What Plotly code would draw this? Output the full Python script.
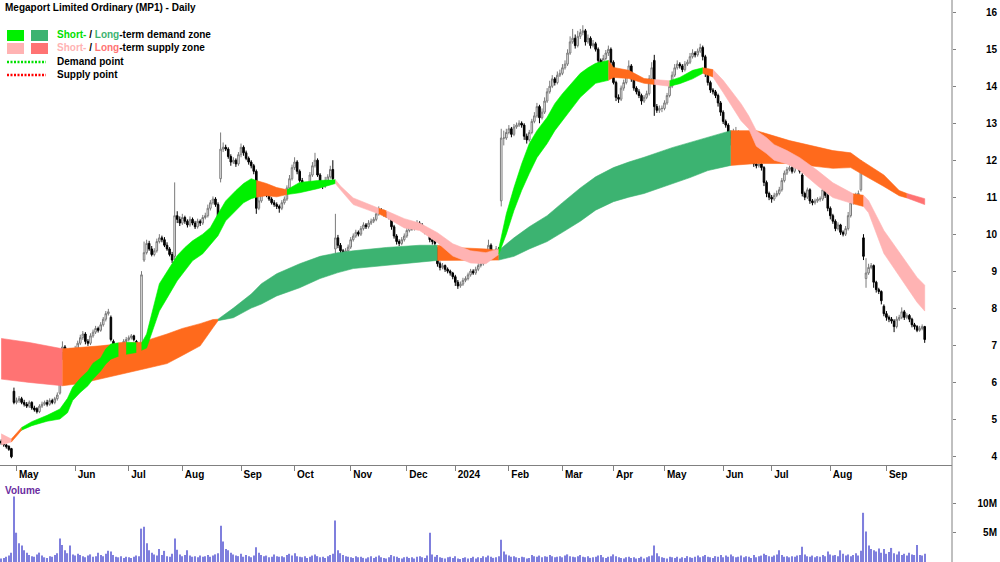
import plotly.graph_objects as go
import pandas as pd

# ---------------- data ----------------
open_ = [
 4.40, 4.36, 4.30, 4.26, 4.20, 5.75, 5.45, 5.50, 5.55, 5.45,
 5.40, 5.35, 5.45, 5.30, 5.28, 5.20, 5.35, 5.40, 5.45, 5.40,
 5.50, 5.45, 5.55, 5.70, 6.80, 6.95, 6.60, 6.75, 6.85, 6.70,
 6.90, 7.05, 7.20, 7.30, 7.10, 7.05, 7.25, 7.35, 7.45, 7.40,
 7.55, 7.70, 7.85, 7.75, 7.10, 6.85, 6.95, 6.90, 7.00, 7.10,
 7.15, 7.20, 7.25, 7.10, 6.85, 6.80, 9.30, 9.50, 9.75, 9.60,
 9.45, 9.55, 9.80, 9.90, 9.85, 9.70, 9.60, 9.45, 9.40, 10.50,
 10.40, 10.30, 10.45, 10.35, 10.25, 10.40, 10.30, 10.20, 10.35, 10.30,
 10.45, 10.50, 10.70, 10.85, 10.95, 10.80, 11.50, 12.30, 12.35, 12.30,
 12.10, 11.95, 12.00, 11.90, 12.15, 12.35, 12.20, 12.05, 11.95, 11.85,
 11.70, 10.70, 10.90, 11.10, 11.20, 11.05, 10.95, 10.85, 10.80, 10.75,
 10.70, 10.85, 10.95, 11.25, 11.50, 11.80, 11.95, 11.70, 11.45, 11.35,
 11.30, 11.25, 11.60, 11.85, 12.00, 11.60, 11.35, 11.30, 11.45, 11.55,
 11.75, 9.60, 9.90, 9.70, 9.55, 9.45, 9.55, 9.65, 9.85, 9.95,
 10.05, 10.00, 10.15, 10.25, 10.20, 10.30, 10.35, 10.40, 10.55, 10.65,
 10.60, 10.55, 10.50, 10.45, 10.20, 9.95, 9.80, 9.75, 9.85, 9.95,
 10.10, 10.20, 10.15, 10.25, 10.30, 10.25, 10.15, 10.05, 10.10, 9.85,
 9.80, 9.60, 9.20, 9.10, 9.15, 9.05, 9.00, 8.95, 8.85, 8.70,
 8.60, 8.65, 8.75, 8.80, 8.90, 9.00, 8.95, 9.05, 9.15, 9.20,
 9.30, 9.45, 9.70, 9.50, 9.40, 9.60, 10.90, 12.60, 12.60, 12.75,
 12.85, 12.70, 12.90, 12.95, 13.00, 12.95, 12.65, 12.55, 12.75, 13.05,
 13.20, 13.45, 13.15, 13.30, 13.60, 13.85, 14.00, 14.20, 14.10, 14.30,
 14.35, 14.50, 14.60, 14.90, 15.20, 15.30, 15.10, 15.35, 15.45, 15.50,
 15.20, 15.30, 15.10, 15.15, 15.00, 14.70, 14.45, 14.75, 14.90, 15.00,
 14.65, 14.10, 13.70, 13.65, 13.95, 14.10, 14.30, 14.55, 14.20, 13.95,
 13.85, 13.75, 13.60, 13.70, 13.80, 14.20, 14.70, 13.45, 13.35, 13.40,
 13.40, 13.55, 13.75, 14.00, 14.30, 14.50, 14.60, 14.55, 14.45, 14.60,
 14.65, 14.80, 14.90, 14.85, 14.95, 15.05, 14.80, 14.35, 14.10, 13.90,
 13.85, 13.75, 13.55, 13.30, 13.05, 12.95, 12.75, 12.60, 12.70, 12.75,
 12.55, 12.40, 12.30, 12.15, 12.05, 12.00, 11.90, 11.85, 11.90, 11.80,
 11.40, 11.10, 11.00, 10.95, 11.05, 11.10, 11.20, 11.45, 11.65, 11.75,
 11.80, 11.70, 11.85, 11.95, 11.60, 11.10, 11.00, 11.20, 10.90, 10.85,
 10.90, 10.95, 10.95, 11.20, 11.05, 10.70, 10.50, 10.35, 10.15, 10.25,
 10.05, 10.00, 10.15, 10.50, 10.85, 10.95, 11.05, 11.20, 9.90, 8.80,
 8.95, 9.10, 9.15, 8.70, 8.50, 8.45, 8.05, 7.85, 7.75, 7.70,
 7.65, 7.50, 7.70, 7.75, 7.90, 7.75, 7.80, 7.70, 7.55, 7.50,
 7.40, 7.45, 7.50]

high = [
 4.45, 4.40, 4.33, 4.29, 4.22, 5.85, 5.58, 5.62, 5.60, 5.52,
 5.46, 5.50, 5.48, 5.36, 5.32, 5.40, 5.47, 5.50, 5.52, 5.56,
 5.55, 5.60, 5.72, 6.86, 7.10, 7.00, 6.82, 6.92, 6.90, 6.98,
 7.12, 7.28, 7.38, 7.35, 7.16, 7.32, 7.42, 7.52, 7.50, 7.62,
 7.76, 7.92, 7.98, 7.80, 7.15, 7.02, 7.00, 7.06, 7.16, 7.22,
 7.26, 7.30, 7.28, 7.14, 6.90, 9.00, 9.80, 9.85, 9.82, 9.68,
 9.62, 9.88, 10.00, 9.96, 9.92, 9.78, 9.65, 9.52, 11.40, 10.62,
 10.48, 10.55, 10.50, 10.40, 10.48, 10.45, 10.36, 10.42, 10.40, 10.52,
 10.58, 10.80, 10.92, 11.02, 11.00, 10.86, 12.75, 12.48, 12.42, 12.35,
 12.16, 12.08, 12.05, 12.22, 12.45, 12.40, 12.26, 12.10, 12.00, 11.90,
 11.75, 11.05, 11.20, 11.32, 11.25, 11.10, 11.00, 10.92, 10.86, 10.80,
 10.92, 11.02, 11.32, 11.60, 11.88, 12.08, 12.00, 11.75, 11.52, 11.40,
 11.35, 11.68, 11.95, 12.20, 12.05, 11.65, 11.42, 11.55, 11.62, 11.85,
 12.00, 10.55, 9.98, 9.76, 9.60, 9.62, 9.72, 9.92, 10.02, 10.12,
 10.10, 10.22, 10.32, 10.30, 10.38, 10.42, 10.46, 10.62, 10.75, 10.70,
 10.66, 10.60, 10.56, 10.48, 10.25, 10.00, 9.86, 9.92, 10.02, 10.18,
 10.28, 10.25, 10.32, 10.38, 10.35, 10.30, 10.20, 10.16, 10.14, 9.90,
 9.84, 9.65, 9.26, 9.22, 9.18, 9.10, 9.04, 8.98, 8.90, 8.76,
 8.72, 8.82, 8.86, 8.96, 9.06, 9.05, 9.12, 9.22, 9.26, 9.38,
 9.52, 9.85, 9.75, 9.55, 9.68, 9.65, 12.85, 12.80, 12.85, 12.95,
 12.90, 12.98, 13.02, 13.08, 13.05, 13.00, 12.72, 12.82, 13.12, 13.30,
 13.55, 13.50, 13.40, 13.70, 13.95, 14.15, 14.30, 14.25, 14.40, 14.45,
 14.60, 14.70, 15.00, 15.35, 15.55, 15.40, 15.50, 15.55, 15.65, 15.55,
 15.40, 15.35, 15.25, 15.20, 15.05, 14.75, 14.85, 14.98, 15.10, 15.05,
 14.70, 14.15, 13.78, 14.02, 14.18, 14.40, 14.70, 14.60, 14.25, 14.00,
 13.92, 13.80, 13.76, 13.88, 14.30, 14.65, 14.85, 13.52, 13.48, 13.48,
 13.62, 13.82, 14.08, 14.40, 14.60, 14.70, 14.65, 14.60, 14.68, 14.72,
 14.90, 15.00, 14.95, 15.02, 15.15, 15.10, 14.85, 14.40, 14.15, 13.95,
 13.90, 13.80, 13.60, 13.35, 13.10, 13.00, 12.80, 12.85, 12.90, 12.80,
 12.60, 12.45, 12.35, 12.22, 12.10, 12.05, 11.96, 11.98, 11.95, 11.84,
 11.45, 11.15, 11.06, 11.12, 11.18, 11.28, 11.52, 11.72, 11.82, 11.86,
 11.85, 11.92, 12.02, 12.00, 11.65, 11.15, 11.26, 11.24, 10.95, 10.96,
 11.00, 11.02, 11.28, 11.25, 11.10, 10.75, 10.55, 10.40, 10.32, 10.28,
 10.10, 10.22, 10.60, 10.92, 11.02, 11.12, 11.18, 12.00, 10.00, 9.35,
 9.20, 9.22, 9.18, 8.74, 8.55, 8.48, 8.10, 7.92, 7.80, 7.76,
 7.70, 7.78, 7.82, 8.02, 7.95, 7.86, 7.84, 7.74, 7.60, 7.54,
 7.52, 7.56, 7.52]

low = [
 4.30, 4.25, 4.20, 4.14, 3.94, 5.40, 5.40, 5.44, 5.40, 5.34,
 5.30, 5.30, 5.25, 5.20, 5.15, 5.16, 5.30, 5.36, 5.34, 5.36,
 5.40, 5.40, 5.50, 5.66, 6.60, 6.50, 6.55, 6.68, 6.62, 6.65,
 6.84, 7.00, 7.14, 7.02, 6.98, 7.00, 7.20, 7.30, 7.34, 7.36,
 7.50, 7.64, 7.80, 7.10, 6.78, 6.80, 6.84, 6.86, 6.95, 7.05,
 7.10, 7.15, 7.10, 6.80, 6.74, 6.75, 9.25, 9.45, 9.55, 9.40,
 9.40, 9.50, 9.75, 9.78, 9.65, 9.55, 9.40, 9.22, 9.28, 10.30,
 10.22, 10.25, 10.28, 10.18, 10.20, 10.24, 10.14, 10.15, 10.22, 10.25,
 10.40, 10.45, 10.64, 10.80, 10.74, 10.35, 11.40, 12.22, 12.25, 12.04,
 11.85, 11.90, 11.82, 11.85, 12.08, 12.12, 12.00, 11.88, 11.78, 11.62,
 10.55, 10.65, 10.85, 11.05, 11.00, 10.90, 10.80, 10.74, 10.68, 10.58,
 10.65, 10.80, 10.90, 11.20, 11.45, 11.74, 11.62, 11.40, 11.30, 11.24,
 11.18, 11.20, 11.55, 11.80, 11.55, 11.28, 11.22, 11.25, 11.40, 11.50,
 11.42, 9.00, 9.62, 9.48, 9.38, 9.40, 9.50, 9.60, 9.80, 9.90,
 9.94, 9.95, 10.10, 10.14, 10.15, 10.25, 10.30, 10.35, 10.50, 10.55,
 10.48, 10.44, 10.40, 10.12, 9.88, 9.72, 9.68, 9.70, 9.80, 9.90,
 10.05, 10.10, 10.10, 10.20, 10.20, 10.10, 10.00, 10.00, 9.78, 9.72,
 9.68, 9.12, 9.02, 9.05, 8.98, 8.94, 8.88, 8.78, 8.60, 8.52,
 8.55, 8.60, 8.70, 8.75, 8.85, 8.90, 8.90, 9.00, 9.10, 9.15,
 9.25, 9.40, 9.42, 9.32, 9.35, 9.48, 10.75, 12.40, 12.55, 12.70,
 12.62, 12.65, 12.85, 12.90, 12.88, 12.55, 12.45, 12.50, 12.70, 13.00,
 13.15, 13.00, 13.10, 13.25, 13.55, 13.80, 13.95, 14.02, 14.05, 14.25,
 14.30, 14.45, 14.55, 14.85, 15.15, 15.02, 15.05, 15.28, 15.38, 15.10,
 15.15, 15.02, 15.05, 14.94, 14.62, 14.35, 14.40, 14.70, 14.82, 14.58,
 14.05, 13.60, 13.55, 13.60, 13.88, 14.05, 14.25, 14.12, 13.88, 13.78,
 13.68, 13.50, 13.55, 13.65, 13.75, 14.15, 13.20, 13.28, 13.28, 13.30,
 13.35, 13.50, 13.70, 13.95, 14.25, 14.45, 14.48, 14.38, 14.40, 14.55,
 14.60, 14.75, 14.78, 14.80, 14.90, 14.70, 14.25, 14.02, 13.82, 13.78,
 13.68, 13.45, 13.20, 12.98, 12.88, 12.65, 12.40, 12.35, 12.62, 12.48,
 12.32, 12.22, 12.05, 11.98, 11.92, 11.82, 11.78, 11.80, 11.72, 11.30,
 11.00, 10.92, 10.85, 10.90, 11.00, 11.05, 11.15, 11.40, 11.60, 11.70,
 11.64, 11.65, 11.80, 11.64, 11.02, 10.92, 10.95, 10.82, 10.78, 10.80,
 10.85, 10.88, 10.90, 10.98, 10.62, 10.40, 10.28, 10.08, 10.10, 9.98,
 9.94, 9.95, 10.10, 10.45, 10.80, 10.90, 11.00, 11.15, 9.30, 8.55,
 8.90, 9.05, 8.55, 8.42, 8.38, 8.10, 7.78, 7.66, 7.62, 7.58,
 7.35, 7.45, 7.65, 7.70, 7.68, 7.70, 7.62, 7.48, 7.42, 7.35,
 7.36, 7.40, 7.06]

close = [
 4.35, 4.30, 4.25, 4.18, 3.98, 5.45, 5.50, 5.55, 5.45, 5.40,
 5.35, 5.45, 5.30, 5.25, 5.20, 5.35, 5.40, 5.45, 5.40, 5.50,
 5.45, 5.55, 5.65, 6.80, 6.95, 6.60, 6.75, 6.85, 6.70, 6.90,
 7.05, 7.20, 7.30, 7.10, 7.05, 7.25, 7.35, 7.45, 7.40, 7.55,
 7.70, 7.85, 7.90, 7.15, 6.85, 6.95, 6.90, 7.00, 7.10, 7.15,
 7.20, 7.25, 7.15, 6.85, 6.78, 8.90, 9.50, 9.75, 9.60, 9.45,
 9.55, 9.80, 9.90, 9.85, 9.70, 9.60, 9.45, 9.30, 10.50, 10.40,
 10.30, 10.45, 10.35, 10.25, 10.40, 10.30, 10.20, 10.35, 10.30, 10.45,
 10.50, 10.70, 10.85, 10.95, 10.80, 10.40, 12.30, 12.35, 12.30, 12.10,
 11.95, 12.00, 11.90, 12.15, 12.35, 12.20, 12.05, 11.95, 11.85, 11.70,
 10.70, 10.90, 11.10, 11.20, 11.05, 10.95, 10.85, 10.80, 10.75, 10.70,
 10.85, 10.95, 11.25, 11.50, 11.80, 11.95, 11.70, 11.45, 11.35, 11.30,
 11.25, 11.60, 11.85, 12.00, 11.60, 11.35, 11.30, 11.45, 11.55, 11.75,
 11.50, 9.90, 9.70, 9.55, 9.45, 9.55, 9.65, 9.85, 9.95, 10.05,
 10.00, 10.15, 10.25, 10.20, 10.30, 10.35, 10.40, 10.55, 10.65, 10.60,
 10.55, 10.50, 10.45, 10.20, 9.95, 9.80, 9.75, 9.85, 9.95, 10.10,
 10.20, 10.15, 10.25, 10.30, 10.25, 10.15, 10.05, 10.10, 9.85, 9.80,
 9.75, 9.20, 9.10, 9.15, 9.05, 9.00, 8.95, 8.85, 8.70, 8.60,
 8.65, 8.75, 8.80, 8.90, 9.00, 8.95, 9.05, 9.15, 9.20, 9.30,
 9.45, 9.70, 9.50, 9.40, 9.60, 9.55, 12.60, 12.60, 12.75, 12.85,
 12.70, 12.90, 12.95, 13.00, 12.95, 12.65, 12.55, 12.75, 13.05, 13.20,
 13.45, 13.15, 13.30, 13.60, 13.85, 14.00, 14.20, 14.10, 14.30, 14.35,
 14.50, 14.60, 14.90, 15.20, 15.30, 15.10, 15.35, 15.45, 15.50, 15.20,
 15.30, 15.10, 15.15, 15.00, 14.70, 14.45, 14.75, 14.90, 15.00, 14.65,
 14.10, 13.70, 13.65, 13.95, 14.10, 14.30, 14.55, 14.20, 13.95, 13.85,
 13.75, 13.60, 13.70, 13.80, 14.20, 14.50, 13.45, 13.35, 13.40, 13.40,
 13.55, 13.75, 14.00, 14.30, 14.50, 14.60, 14.55, 14.45, 14.60, 14.65,
 14.80, 14.90, 14.85, 14.95, 15.05, 14.80, 14.35, 14.10, 13.90, 13.85,
 13.75, 13.55, 13.30, 13.05, 12.95, 12.75, 12.60, 12.70, 12.75, 12.55,
 12.40, 12.30, 12.15, 12.05, 12.00, 11.90, 11.85, 11.90, 11.80, 11.40,
 11.10, 11.00, 10.95, 11.05, 11.10, 11.20, 11.45, 11.65, 11.75, 11.80,
 11.70, 11.85, 11.95, 11.70, 11.10, 11.00, 11.20, 10.90, 10.85, 10.90,
 10.95, 10.95, 11.20, 11.05, 10.70, 10.50, 10.35, 10.15, 10.25, 10.05,
 10.00, 10.15, 10.50, 10.85, 10.95, 11.05, 11.10, 11.75, 9.40, 8.95,
 9.10, 9.15, 8.70, 8.50, 8.45, 8.20, 7.85, 7.75, 7.70, 7.65,
 7.50, 7.70, 7.75, 7.90, 7.75, 7.80, 7.70, 7.55, 7.50, 7.40,
 7.45, 7.50, 7.15]

volume_m = [
 0.6, 0.7, 0.9, 1.1, 1.6, 11.2, 5.0, 3.2, 2.8, 2.0,
 1.6, 1.2, 1.0, 0.9, 1.3, 1.6, 1.1, 0.8, 0.7, 1.0,
 0.9, 1.2, 1.5, 4.0, 2.9, 2.0, 1.5, 2.8, 1.3, 1.1,
 1.4, 1.2, 1.0, 0.8, 1.1, 1.3, 0.9, 1.0, 1.6, 1.2,
 1.0, 1.4, 1.9, 1.8, 1.2, 0.9, 0.8, 1.0, 0.7, 0.9,
 0.8, 0.7, 0.9, 1.1, 1.0, 5.7, 6.0, 3.2, 2.0, 1.6,
 1.3, 1.1, 2.2, 1.2, 1.9, 1.0, 0.9, 1.4, 4.0, 2.1,
 1.3, 1.0, 1.2, 2.0, 1.1, 0.9, 1.0, 0.8, 1.1, 0.9,
 1.0, 1.2, 0.9, 1.1, 1.3, 1.5, 6.2, 3.5, 2.2, 2.0,
 1.6, 1.3, 1.1, 1.0, 1.4, 0.9, 1.2, 1.0, 0.8, 1.1,
 2.5, 1.6, 1.2, 1.0, 1.1, 0.8, 0.9, 1.3, 1.0, 0.9,
 1.0, 0.8, 1.2, 1.4, 1.1, 1.5, 1.0, 0.9, 0.8, 1.0,
 0.7, 0.9, 1.1, 1.3, 1.0, 0.8, 0.9, 0.7, 1.0, 1.2,
 1.4, 7.1, 2.0, 1.5, 1.2, 1.0, 0.9, 0.8, 0.7, 1.0,
 0.8, 0.9, 0.7, 0.6, 0.8, 1.0, 0.7, 0.9, 1.1, 0.8,
 0.7, 0.6, 0.8, 1.2, 1.0, 0.9, 0.7, 0.6, 0.8, 0.9,
 0.7, 0.8, 0.6, 0.9, 1.0, 0.8, 0.7, 1.1, 5.0, 1.3,
 0.9, 1.2, 0.8, 0.7, 0.6, 0.8, 0.9, 0.7, 1.0, 0.6,
 0.5, 0.7, 0.8, 0.6, 0.7, 0.9, 0.6, 0.8, 0.7, 1.0,
 0.8, 1.1, 0.9, 0.7, 0.8, 1.0, 3.8, 1.8, 1.3, 1.1,
 0.9, 1.0, 0.8, 0.7, 0.9, 0.8, 0.6, 0.7, 1.2, 1.0,
 0.9, 1.1, 0.8, 1.0, 0.9, 1.2, 1.0, 0.8, 0.9, 1.0,
 0.8, 1.1, 1.3, 1.0, 0.9, 0.8, 1.0, 1.2, 0.9, 0.8,
 1.0, 0.7, 0.8, 0.9, 1.1, 1.2, 0.8, 0.7, 0.9, 1.0,
 1.3, 1.0, 0.8, 0.7, 0.6, 0.8, 0.9, 0.7, 0.8, 0.6,
 0.7, 0.9, 0.6, 0.8, 1.0, 1.1, 2.8, 1.5, 1.0, 0.8,
 0.7, 0.6, 0.9, 0.8, 0.7, 0.9, 0.6, 0.8, 0.7, 1.0,
 0.8, 0.7, 0.9, 1.1, 0.8, 1.0, 1.2, 0.9, 0.8, 0.7,
 1.0, 0.9, 1.2, 0.8, 1.1, 0.9, 1.3, 1.0, 0.8, 0.9,
 1.1, 0.8, 1.0, 0.9, 0.7, 1.2, 0.8, 1.0, 1.1, 1.4,
 1.2, 1.0, 0.9, 1.1, 1.3, 2.0, 1.2, 0.9, 1.0, 0.8,
 1.0, 0.9, 1.1, 1.2, 2.6, 1.3, 1.0, 0.9, 1.1, 0.8,
 1.0, 0.9, 1.2, 1.0, 1.8, 1.3, 1.1, 1.2, 1.0, 2.0,
 1.4, 1.1, 1.3, 1.0, 1.2, 1.5, 1.1, 1.9, 8.4, 5.2,
 2.8, 2.2, 2.0, 1.8, 2.3, 1.6, 2.2, 1.4, 1.7, 2.4,
 1.5, 1.3, 1.8, 1.2, 1.4, 1.1, 1.6, 1.3, 1.2, 2.9,
 1.2, 1.1, 1.4]

# short-term zone edges (trading-day index, upper, lower)
st_idx = [0, 4, 8, 12, 18, 23, 26, 28, 31, 34, 36, 39, 41, 43, 46, 49, 53, 55, 57, 62,
          65, 69, 72, 75, 79, 82, 85, 88, 92, 95, 98, 100, 104, 108, 112, 117, 124, 131, 133, 138,
          145, 148, 151, 158, 164, 171, 177, 184, 190, 195, 198, 201, 204, 207, 210, 214, 217, 220, 224, 227,
          230, 233, 238, 240, 246, 252, 256, 262, 266, 271, 275, 279, 283, 290, 293, 296, 300, 303, 308, 313,
          320, 326, 334, 338, 340, 346, 352, 359, 362]
st_top = [4.60, 4.46, 4.77, 4.93, 5.10, 5.27, 5.56, 5.86, 6.10, 6.30, 6.51, 6.65, 6.90, 7.03, 7.06, 7.08, 7.06, 7.05, 7.30, 8.66,
          9.00, 9.42, 9.64, 9.82, 10.00, 10.18, 10.55, 10.90, 11.18, 11.37, 11.50, 11.45, 11.37, 11.26, 11.20, 11.40, 11.45, 11.47, 11.30, 10.98,
          10.77, 10.70, 10.63, 10.42, 10.30, 10.04, 9.74, 9.55, 9.50, 9.60, 10.55, 11.26, 11.90, 12.45, 12.80, 13.16, 13.53, 13.80, 14.10, 14.35,
          14.50, 14.62, 14.70, 14.51, 14.43, 14.21, 14.18, 14.15, 14.24, 14.43, 14.50, 14.45, 14.16, 13.53, 13.20, 12.80, 12.61, 12.42, 12.26, 12.07,
          11.72, 11.39, 11.09, 11.05, 10.91, 10.10, 9.50, 8.83, 8.62]
st_bot = [4.30, 4.38, 4.70, 4.82, 4.94, 5.00, 5.17, 5.50, 5.72, 5.90, 6.08, 6.30, 6.49, 6.62, 6.70, 6.75, 6.80, 6.86, 6.92, 7.92,
          8.27, 8.74, 9.00, 9.28, 9.47, 9.70, 9.96, 10.36, 10.64, 10.85, 10.96, 11.00, 11.04, 11.01, 11.07, 11.12, 11.23, 11.37, 11.20, 10.80,
          10.63, 10.55, 10.45, 10.17, 10.10, 9.77, 9.41, 9.22, 9.20, 9.45, 10.00, 10.64, 11.18, 11.64, 12.07, 12.45, 12.80, 13.07, 13.43, 13.70,
          13.90, 14.08, 14.16, 14.24, 14.21, 14.08, 14.05, 14.00, 14.07, 14.20, 14.35, 14.25, 13.83, 13.07, 12.85, 12.38, 12.18, 12.00, 11.90, 11.72,
          11.31, 10.99, 10.82, 10.75, 10.58, 9.48, 8.88, 8.16, 7.92]
st_zones = [(0, 4, "supply"), (4, 8, "mixed"), (8, 46, "demand"), (46, 49, "mixed"), (49, 53, "demand"),
            (53, 55, "mixed"), (55, 100, "demand"), (100, 112, "mixed"), (112, 131, "demand"),
            (131, 148, "supply"), (148, 151, "mixed"), (151, 195, "supply"), (195, 238, "demand"),
            (238, 256, "mixed"), (256, 262, "supply"), (262, 275, "demand"), (275, 279, "mixed"),
            (279, 334, "supply"), (334, 338, "mixed"), (338, 362, "supply")]

# long-term zone edges
lt_idx = [0, 11, 24, 31, 39, 47, 55, 65, 71, 78, 83, 85, 91, 98, 102, 108, 117, 125, 132, 138,
          151, 164, 171, 177, 190, 195, 201, 207, 214, 220, 227, 233, 240, 246, 252, 263, 270, 277, 286, 296,
          309, 326, 333, 337, 346, 352, 355, 362]
lt_top = [7.18, 7.07, 6.90, 6.93, 6.98, 7.04, 7.08, 7.30, 7.45, 7.58, 7.69, 7.70, 8.00, 8.38, 8.66, 8.93, 9.20, 9.40, 9.50, 9.55,
          9.64, 9.70, 9.70, 9.64, 9.60, 9.56, 9.90, 10.20, 10.50, 10.85, 11.25, 11.55, 11.80, 11.95, 12.08, 12.34, 12.48, 12.61, 12.80, 12.80,
          12.53, 12.26, 12.20, 12.00, 11.60, 11.18, 11.10, 10.96]
lt_bot = [6.08, 5.99, 5.90, 5.96, 6.09, 6.22, 6.34, 6.50, 6.72, 6.98, 7.47, 7.66, 7.74, 8.00, 8.11, 8.33, 8.55, 8.80, 8.96, 9.07,
          9.15, 9.24, 9.29, 9.29, 9.30, 9.30, 9.40, 9.60, 9.80, 10.05, 10.35, 10.65, 10.88, 11.00, 11.10, 11.37, 11.53, 11.72, 11.86, 11.91,
          11.91, 11.78, 11.80, 11.64, 11.29, 11.04, 10.98, 10.80]
lt_zones = [(0, 24, "supply"), (24, 85, "mixed"), (85, 171, "demand"), (171, 195, "mixed"),
            (195, 286, "demand"), (286, 355, "mixed"), (355, 362, "supply")]

price_ticks = [4, 5, 6, 7, 8, 9, 10, 11, 12, 13, 14, 15, 16]

# ---------------- helpers / styles ----------------
W, H = 1000, 562
FONT = "Liberation Sans, Arial, sans-serif"
ST_COL = {"demand": "#00f000", "supply": "#ffb3b3", "mixed": "#ff6a1c"}
LT_COL = {"demand": "#3cb371", "supply": "#ff7373", "mixed": "#ff6a1c"}


def px(x):
    return x / W


def py(y):
    return 1 - y / H


holidays = pd.to_datetime(["2023-04-25", "2023-06-12", "2023-12-25", "2023-12-26", "2024-01-01",
                           "2024-01-26", "2024-03-29", "2024-04-01", "2024-04-25", "2024-06-10"])
days = pd.bdate_range("2023-04-20", "2024-10-31")
days = days[~days.isin(holidays)][:len(close)]
idx = list(range(len(close)))

fig = go.Figure()


def add_band(bi, bt, bb, zones, cols):
    for a, b, z in zones:
        pts = [k for k in range(len(bi)) if a <= bi[k] <= b]
        xs = [bi[k] for k in pts] + [bi[k] for k in reversed(pts)]
        ys = [bt[k] for k in pts] + [bb[k] for k in reversed(pts)]
        fig.add_trace(go.Scatter(x=xs, y=ys, fill="toself", fillcolor=cols[z], mode="lines",
                                 line=dict(color=cols[z], width=0.6), hoverinfo="skip",
                                 showlegend=False, xaxis="x", yaxis="y"))


add_band(lt_idx, lt_top, lt_bot, lt_zones, LT_COL)
add_band(st_idx, st_top, st_bot, st_zones, ST_COL)

fig.add_trace(go.Candlestick(
    x=idx, open=open_, high=high, low=low, close=close, xaxis="x", yaxis="y",
    increasing=dict(line=dict(color="#7a7a7a", width=1), fillcolor="#ffffff"),
    decreasing=dict(line=dict(color="#000000", width=1), fillcolor="#000000"),
    whiskerwidth=0, showlegend=False, hoverinfo="skip"))

fig.add_trace(go.Bar(x=idx, y=volume_m, width=0.45, marker=dict(color="#7f7fdd", line=dict(width=0)),
                     xaxis="x2", yaxis="y2", showlegend=False, hoverinfo="skip"))

# invisible anchors for the label-only axes
fig.add_trace(go.Scatter(x=[0], y=[10], mode="markers", marker=dict(opacity=0), xaxis="x", yaxis="y3",
                         showlegend=False, hoverinfo="skip"))
fig.add_trace(go.Scatter(x=[0], y=[1], mode="markers", marker=dict(opacity=0), xaxis="x2", yaxis="y4",
                         showlegend=False, hoverinfo="skip"))

# month ticks
month_starts = [i for i in idx if i > 0 and days[i].month != days[i - 1].month]
month_text = [("%d" % days[i].year) if days[i].month == 1 else days[i].strftime("%b") for i in month_starts]
CW = {"M": 8.33, "a": 5.56, "y": 5.56, "J": 5.56, "u": 6.11, "n": 6.11, "l": 2.78, "A": 7.22, "g": 6.11,
      "S": 6.67, "e": 5.56, "p": 6.11, "O": 7.78, "c": 5.56, "t": 3.33, "N": 7.22, "o": 6.11, "v": 5.56,
      "D": 7.22, "2": 5.56, "0": 5.56, "4": 5.56, "F": 6.11, "b": 6.11, "r": 3.89}
BAR_PX = 952 / 373.17
label_pos = [m + (2.5 + sum(CW.get(ch, 6) for ch in t) / 2) / BAR_PX for m, t in zip(month_starts, month_text)]

X_RANGE = [-0.47, 372.7]
P_RANGE = [3.757, 16.333]
V_RANGE = [0, 14.0]
PRICE_DOM = [(H - 465) / H, 1.0]
VOL_DOM = [0.0, (H - 480) / H]
tickfont = dict(family=FONT, size=10, color="#000000", weight="bold")

fig.update_layout(
    width=W, height=H, margin=dict(l=0, r=0, t=0, b=0, pad=0),
    paper_bgcolor="white", plot_bgcolor="white", showlegend=False, boxgap=0.12,
    font=dict(family=FONT, size=10, color="#000000"),
    xaxis=dict(domain=[0, 0.952], range=X_RANGE, anchor="y", showgrid=False, zeroline=False,
               showline=True, linecolor="#808080", linewidth=1, rangeslider=dict(visible=False),
               tickmode="array", tickvals=label_pos, ticktext=month_text, ticks="", ticklen=0,
               tickfont=tickfont,
               minor=dict(tickmode="array", tickvals=month_starts, ticks="outside", ticklen=5,
                          tickcolor="#808080", showgrid=False)),
    xaxis2=dict(domain=[0, 0.952], range=X_RANGE, anchor="y2", showgrid=False, zeroline=False,
                showline=False, showticklabels=False, ticks=""),
    yaxis=dict(domain=PRICE_DOM, range=P_RANGE, anchor="x", side="right", showgrid=False,
               zeroline=False, showline=False, tickmode="array", tickvals=price_ticks,
               ticks="outside", ticklen=3, tickcolor="#808080", showticklabels=False),
    yaxis3=dict(overlaying="y", range=P_RANGE, anchor="free", position=0.997, side="left",
                showgrid=False, zeroline=False, showline=False, tickmode="array",
                tickvals=price_ticks, ticktext=[str(v) for v in price_ticks], ticks="",
                tickfont=tickfont),
    yaxis2=dict(domain=VOL_DOM, range=V_RANGE, anchor="x2", side="right", showgrid=False,
                zeroline=False, showline=False, tickmode="array", tickvals=[5, 10],
                ticks="outside", ticklen=3, tickcolor="#808080", showticklabels=False),
    yaxis4=dict(overlaying="y2", range=V_RANGE, anchor="free", position=0.997, side="left",
                showgrid=False, zeroline=False, showline=False, tickmode="array",
                tickvals=[5, 10], ticktext=["5M", "10M"], ticks="", tickfont=tickfont),
)

shapes = [
    dict(type="line", xref="paper", yref="paper", x0=0.952, x1=0.952, y0=0, y1=1,
         line=dict(color="#808080", width=1)),
    dict(type="rect", xref="paper", yref="paper", x0=px(7), x1=px(24), y0=py(41), y1=py(30),
         fillcolor="#00f000", line=dict(width=0)),
    dict(type="rect", xref="paper", yref="paper", x0=px(31), x1=px(48), y0=py(41), y1=py(30),
         fillcolor="#3cb371", line=dict(width=0)),
    dict(type="rect", xref="paper", yref="paper", x0=px(7), x1=px(24), y0=py(54), y1=py(43),
         fillcolor="#ffb3b3", line=dict(width=0)),
    dict(type="rect", xref="paper", yref="paper", x0=px(31), x1=px(48), y0=py(54), y1=py(43),
         fillcolor="#ff7373", line=dict(width=0)),
    dict(type="line", xref="paper", yref="paper", x0=px(7), x1=px(46), y0=py(62), y1=py(62),
         line=dict(color="#00e000", width=2.5, dash="2px,1.5px")),
    dict(type="line", xref="paper", yref="paper", x0=px(7), x1=px(46), y0=py(75), y1=py(75),
         line=dict(color="#ff0000", width=2.5, dash="2px,1.5px")),
]
fig.update_layout(shapes=shapes)


def note(x, y, text, color="#000000"):
    return dict(xref="paper", yref="paper", x=px(x), y=py(y), xanchor="left", yanchor="middle",
                text=text, showarrow=False, font=dict(family=FONT, size=10, color=color))


annotations = [
    note(3, 8, "<b>Megaport Limited Ordinary (MP1) - Daily</b>"),
    note(55, 35, '<b><span style="color:#00e000">Short-</span> / <span style="color:#3cb371">Long</span>-term demand zone</b>'),
    note(55, 48, '<b><span style="color:#ffb3b3">Short-</span> / <span style="color:#ff7373">Long</span>-term supply zone</b>'),
    note(55, 62, "<b>Demand point</b>"),
    note(55, 75, "<b>Supply point</b>"),
    note(3, 490, "<b>Volume</b>", color="#6a2ca0"),
]
fig.update_layout(annotations=annotations)

fig.write_html("out.html")
